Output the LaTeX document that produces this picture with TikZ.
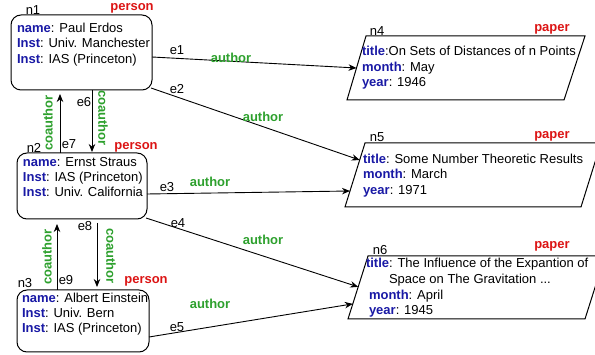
\documentclass[tikz,border=0pt]{standalone}
\usepackage{fontspec}
\setmainfont{Liberation Sans}
\usetikzlibrary{arrows.meta,calc}
\definecolor{keyblue}{RGB}{25,25,165}
\definecolor{lblred}{RGB}{220,20,20}
\definecolor{lblgreen}{RGB}{45,160,45}
\newcommand\kk[1]{\textcolor{keyblue}{\textbf{#1}}}
\newcommand\fsz{\fontsize{13}{15}\selectfont}
\begin{document}
\begin{tikzpicture}[x=1pt,y=-1pt,
  every node/.style={font=\fsz, inner sep=0pt, outer sep=0pt},
  txt/.style={anchor=west, text height=9.8pt, text depth=2.8pt},
  personbox/.style={draw, line width=1pt, rounded corners=10pt},
  paperbox/.style={draw, line width=1pt},
  tag/.style={font=\fsz\bfseries, text=lblred},
  rel/.style={font=\fsz\bfseries, text=lblgreen},
  arr/.style={draw, line width=0.9pt, -{Stealth[length=8pt,width=6.5pt]}}
]
\useasboundingbox (0,0) rectangle (595,355);
\clip (0,0) rectangle (595,355);

% person boxes
\node[personbox, minimum width=141pt, minimum height=75pt] (n1) at (81.5,52.5) {};
\node[personbox, minimum width=130pt, minimum height=66pt] (n2) at (82,186) {};
\node[personbox, minimum width=132pt, minimum height=62pt] (n3) at (83,321) {};

\node[txt] (n1a) at (17,29) {\kk{name}: Paul Erdos};
\node[txt] (n1b) at (17,44.5) {\kk{Inst}: Univ. Manchester};
\node[txt] (n1c) at (17,60) {\kk{Inst}: IAS (Princeton)};
\node[txt] (n2a) at (23,163) {\kk{name}: Ernst Straus};
\node[txt] (n2b) at (23,178) {\kk{Inst}: IAS (Princeton)};
\node[txt] (n2c) at (23,193) {\kk{Inst}: Univ. California};
\node[txt] (n3a) at (22,299) {\kk{name}: Albert Einstein};
\node[txt] (n3b) at (22,314) {\kk{Inst}: Univ. Bern};
\node[txt] (n3c) at (22,329) {\kk{Inst}: IAS (Princeton)};

\node (id1) at (33,10) {n1};
\node (id2) at (34,148) {n2};
\node (id3) at (25,283) {n3};
\node[tag] (t1) at (132,8) {person};
\node[tag] (t2) at (136,147) {person};
\node[tag] (t3) at (146,281) {person};

% paper boxes
\coordinate (n4tl) at (366,36);  \coordinate (n4tr) at (585,36);
\coordinate (n4br) at (564,100); \coordinate (n4bl) at (347,100);
\coordinate (n5tl) at (365,143); \coordinate (n5tr) at (601,143);
\coordinate (n5br) at (581,207); \coordinate (n5bl) at (345,207);
\coordinate (n6tl) at (368,256); \coordinate (n6tr) at (605,256);
\coordinate (n6br) at (585,319); \coordinate (n6bl) at (348,319);
\draw[paperbox] (n4tl) -- (n4tr) -- (n4br) -- (n4bl) -- cycle;
\draw[paperbox] (n5tl) -- (n5tr) -- (n5br) -- (n5bl) -- cycle;
\draw[paperbox] (n6tl) -- (n6tr) -- (n6br) -- (n6bl) -- cycle;

\node[txt] (n4a) at (362,52) {\kk{title}:On Sets of Distances of n Points};
\node[txt] (n4b) at (362,68) {\kk{month}: May};
\node[txt] (n4c) at (362,83) {\kk{year}: 1946};
\node[txt] (n5a) at (363,160) {\kk{title}: Some Number Theoretic Results};
\node[txt] (n5b) at (363,175) {\kk{month}: March};
\node[txt] (n5c) at (363,191) {\kk{year}: 1971};
\node[txt] (n6a) at (366,264) {\kk{title}: The Influence of the Expantion of};
\node[txt] (n6b) at (389,280) {Space on The Gravitation ...};
\node[txt] (n6c) at (369,296) {\kk{month}: April};
\node[txt] (n6d) at (369,311) {\kk{year}: 1945};

\node (id4) at (377,31) {n4};
\node (id5) at (377,137) {n5};
\node (id6) at (380,250) {n6};
\node[tag] (t4) at (552,29) {paper};
\node[tag] (t5) at (552,136) {paper};
\node[tag] (t6) at (552,246) {paper};

% author edges
\draw[arr] ([yshift=-4.5pt]n1.east) -- ($(n4bl)!0.5!(n4tl)$);
\draw[arr] ([shift={(-1pt,2pt)}]n1.south east) -- ($(n5bl)!0.734!(n5tl)$);
\draw[arr] ([yshift=-8pt]n2.east) -- ($(n5bl)!0.25!(n5tl)$);
\draw[arr] ([shift={(-1pt,1pt)}]n2.south east) -- ($(n6bl)!0.51!(n6tl)$);
\draw[arr] ([yshift=-16pt]n3.east) -- ($(n6bl)!0.24!(n6tl)$);

\node (e1) at (177,50) {e1};
\node (e2) at (177,89) {e2};
\node (e3) at (167,187) {e3};
\node (e4) at (178,223) {e4};
\node (e5) at (177,327) {e5};
\node[rel] (a1) at (231,58) {author};
\node[rel] (a2) at (263,117) {author};
\node[rel] (a3) at (210,182) {author};
\node[rel] (a4) at (263,240) {author};
\node[rel] (a5) at (210,304) {author};

% coauthor edges
\draw[arr, shorten >=4pt] ([xshift=-22pt]n2.north) -- ([xshift=-21.5pt]n1.south);
\draw[arr, shorten >=1pt] ([xshift=10.5pt]n1.south) -- ([xshift=10pt]n2.north);
\draw[arr, shorten >=5pt] ([xshift=-26pt]n3.north) -- ([xshift=-25pt]n2.south);
\draw[arr, shorten <=4pt, shorten >=3pt] ([xshift=15pt]n2.south) -- ([xshift=14pt]n3.north);

\node (e6) at (84,102) {e6};
\node (e7) at (69,144) {e7};
\node (e8) at (85,226) {e8};
\node (e9) at (66,280) {e9};
\node[rel, rotate=90] (c7) at (48,123) {coauthor};
\node[rel, rotate=-90] (c6) at (103,118) {coauthor};
\node[rel, rotate=90] (c9) at (47,257) {coauthor};
\node[rel, rotate=-90] (c8) at (111,256) {coauthor};
\end{tikzpicture}
\end{document}
